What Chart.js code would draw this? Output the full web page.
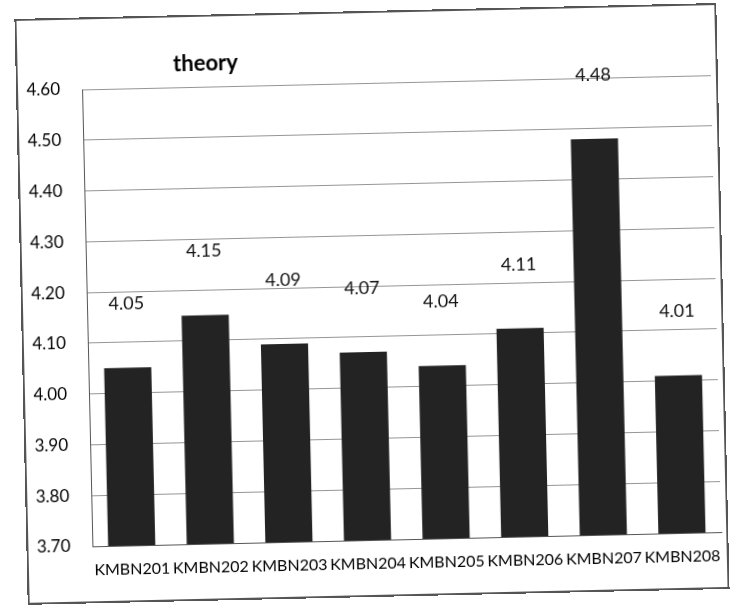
<!DOCTYPE html>
<html>
<head>
<meta charset="utf-8">
<script src="https://cdn.jsdelivr.net/npm/chart.js@4/dist/chart.umd.min.js"></script>
<style>
  html, body { margin: 0; padding: 0; background: #fff; }
  #wrap { position: relative; width: 738px; height: 609px; transform: rotate(-1.3deg); transform-origin: 369px 304px; }
  #frame { position: absolute; left: 21px; top: 11px; width: 702px; height: 586px; border: 2px solid #555; box-sizing: border-box; pointer-events: none; }
  canvas { position: absolute; left: 0; top: 0; }
</style>
</head>
<body>
<div id="wrap">
  <canvas id="c" width="738" height="609"></canvas>
  <div id="frame"></div>
</div>
<script>
const chartTitle = 'theory';
const categories = ['KMBN201','KMBN202','KMBN203','KMBN204','KMBN205','KMBN206','KMBN207','KMBN208'];
const values = [4.05, 4.15, 4.09, 4.07, 4.04, 4.11, 4.48, 4.01];
const yMin = 3.70, yMax = 4.60, yStep = 0.10;

const FONT = 'Lato, "Open Sans", sans-serif';

const labelPlugin = {
  id: 'barLabels',
  afterDatasetsDraw(chart) {
    const ctx = chart.ctx;
    const meta = chart.getDatasetMeta(0);
    ctx.save();
    ctx.fillStyle = '#111';
    ctx.font = '18px ' + FONT;
    ctx.textAlign = 'center';
    ctx.textBaseline = 'middle';
    meta.data.forEach((bar, i) => {
      ctx.fillText(values[i].toFixed(2), bar.x, bar.y - 64);
    });
    ctx.restore();
  }
};

const titlePlugin = {
  id: 'leftTitle',
  afterDraw(chart) {
    const ctx = chart.ctx;
    ctx.save();
    ctx.fillStyle = '#000';
    ctx.font = 'bold 22px ' + FONT;
    ctx.textAlign = 'center';
    ctx.textBaseline = 'middle';
    ctx.fillText(chartTitle, chart.chartArea.left + 124, 60);
    ctx.restore();
  }
};

new Chart(document.getElementById('c'), {
  type: 'bar',
  data: {
    labels: categories,
    datasets: [{
      data: values,
      backgroundColor: '#232323',
      borderWidth: 0,
      barPercentage: 0.6,
      categoryPercentage: 1.0
    }]
  },
  options: {
    responsive: false,
    animation: false,
    layout: { padding: { left: 0, right: 22, top: 83, bottom: 29 } },
    plugins: {
      legend: { display: false },
      title: { display: false },
      tooltip: { enabled: false }
    },
    scales: {
      x: {
        grid: { display: false, drawTicks: false },
        border: { display: true, color: '#555', width: 1 },
        ticks: { color: '#000', font: { family: FONT, size: 16 }, padding: 14, maxRotation: 0, autoSkip: false },
        afterFit(s) { s.height = 40; }
      },
      y: {
        min: yMin, max: yMax,
        grid: { color: '#959595', lineWidth: 1, drawTicks: false },
        border: { display: true, color: '#555', width: 1 },
        ticks: {
          stepSize: yStep, padding: 22, color: '#000',
          font: { family: FONT, size: 17 },
          callback: v => Number(v).toFixed(2)
        },
        afterFit(s) { s.width = 87; }
      }
    }
  },
  plugins: [labelPlugin, titlePlugin]
});
</script>
</body>
</html>
